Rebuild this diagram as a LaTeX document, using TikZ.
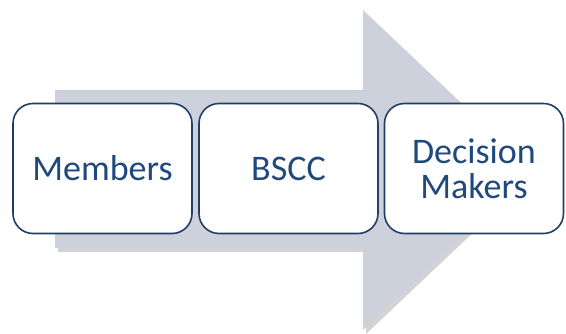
\documentclass[tikz,border=0pt]{standalone}
\usepackage{fontspec}
\setmainfont{Carlito}
\usetikzlibrary{shadows}

\definecolor{arrowgray}{HTML}{CDD1DB}
\definecolor{boxblue}{HTML}{1F3F66}
\definecolor{textblue}{HTML}{1F497D}

\begin{document}
\begin{tikzpicture}[x=1pt,y=-1pt]
\useasboundingbox (0,0) rectangle (566,334);
% big arrow behind the boxes
\fill[arrowgray, drop shadow={opacity=0.35, shadow xshift=3pt, shadow yshift=-4pt}]
  (55,90) -- (363,90) -- (363,10) -- (532,170) -- (363,330) -- (363,248)
  -- (55,248) -- cycle;

\tikzset{stage/.style={draw=boxblue, line width=1.6pt, fill=white,
  rounded corners=20pt, minimum width=179pt, minimum height=130pt,
  text=textblue, font=\fontsize{36}{35}\selectfont, align=center,
  inner sep=0pt}}

\node[stage] at (102.5,168.5) (members) {Members};
\node[stage] at (288.5,168.5) (bscc) {BSCC};
\node[stage] at (474,168.5) (makers) {Decision\\Makers};
\end{tikzpicture}
\end{document}
